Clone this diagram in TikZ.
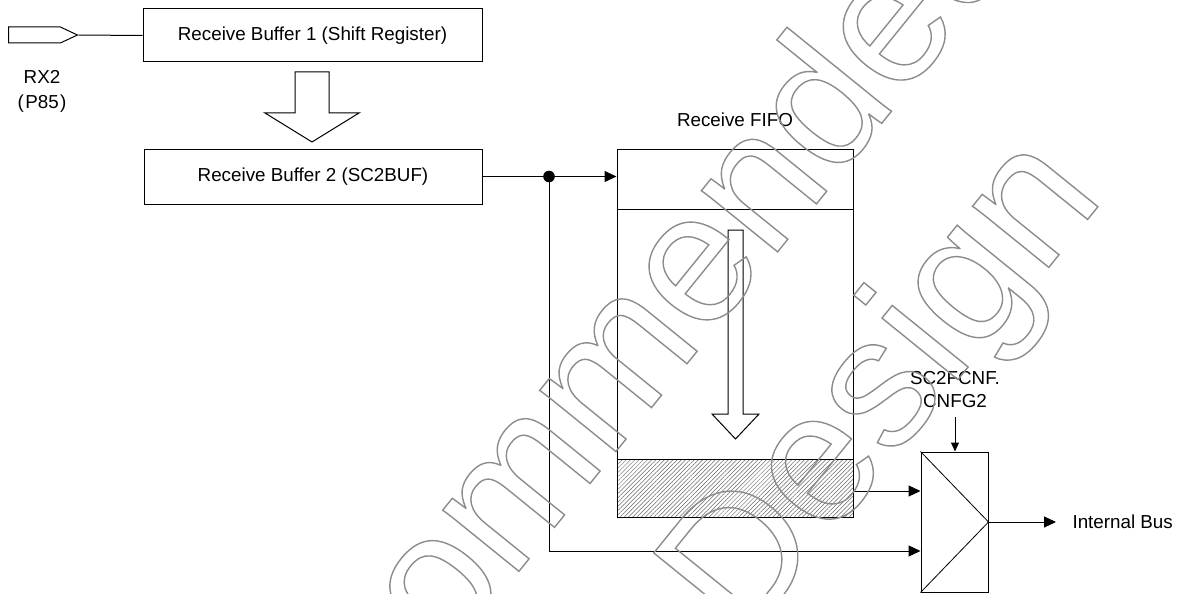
\documentclass[tikz,border=0pt]{standalone}
\usepackage{fontspec}
\setmainfont{Liberation Sans}
\usetikzlibrary{arrows.meta,patterns.meta,shapes.symbols}
\newcommand\wmoutline[1]{\special{pdf:literal direct 1 Tr 1.4 w}#1\special{pdf:literal direct 0 Tr}}
\begin{document}
\begin{tikzpicture}[x=1pt,y=-1pt,
  every node/.style={font=\fontsize{18.8}{23}\selectfont},
  box/.style={draw, line width=1pt, inner sep=0pt},
  conn/.style={line width=1pt},
  arr/.style={conn, -{Triangle[length=12pt,width=11pt]}},
  hollow/.style={draw, line width=1pt, fill=white},
  wm/.style={font=\fontsize{185}{220}\selectfont, text=black!45, inner sep=0pt, rotate=51, anchor=base west}]
\useasboundingbox (0,0) rectangle (1179,594);

% input pin and labels
\node[signal, draw, line width=1pt, signal to=east, signal pointer angle=50,
      minimum width=69pt, minimum height=16pt, inner sep=0pt, anchor=west] (pin) at (8,35) {};
\node[anchor=base] (rx) at (42,84) {RX2};
\node[anchor=base] (p85) at (42,109) {(\kern1.5ptP85\kern1.5pt)};

% buffers
\node[box, minimum width=339pt, minimum height=53pt] (buf1) at (312.5,35.5) {Receive Buffer 1 (Shift Register)};
\node[box, minimum width=338pt, minimum height=55pt] (buf2) at (313,176.5) {Receive Buffer 2 (SC2BUF)};
\draw[conn] (pin.east) -- (buf1.west);

% big hollow arrow
\draw[hollow] (295,72) -- (329,72) -- (329,113) -- (359,113) -- (312,142) -- (265,113) -- (295,113) -- cycle;

% FIFO
\node[anchor=base] (fifolabel) at (735,127) {Receive FIFO};
\node[box, minimum width=236pt, minimum height=60pt] (ftop) at (735,179) {};
\node[box, minimum width=236pt, minimum height=250pt] (fmid) at (735,334) {};
\node[box, minimum width=236pt, minimum height=58pt,
      pattern={Lines[angle=45,distance=3pt,line width=0.5pt]}, pattern color=black!60] (fbot) at (735,488) {};
\draw[hollow] (728,230) -- (743,230) -- (743,414) -- (759,414) -- (735.5,439) -- (712,414) -- (728,414) -- cycle;

% selector
\node[box, minimum width=67pt, minimum height=140pt] (mux) at (954.5,522) {};
\draw[line width=0.8pt] (mux.north west) -- (mux.east) -- (mux.south west);
\node[anchor=base] (cnf1) at (955,384) {SC2FCNF.};
\node[anchor=base] (cnf2) at (955,407) {CNFG2};
\coordinate (cin) at (955,417);
\draw[conn, -{Triangle[length=9pt,width=8pt]}] (cin) -- (cin |- mux.north);

% connections
\coordinate (dot) at (549,176.5);
\coordinate (in1) at ([yshift=31pt]mux.west);
\coordinate (in2) at ([yshift=-29pt]mux.west);
\draw[arr] (buf2.east) -- (buf2.east -| ftop.west);
\fill (dot) circle (5.8pt);
\draw[arr] (fbot.east |- in1) -- (in1);
\draw[arr] (dot) |- (in2);
\coordinate (busend) at (1056,522);
\draw[arr] (mux.east) -- (busend);
\node[anchor=west] (bus) at (1069,522) {Internal Bus};

% watermark
\node[wm] (wm1) at (239,917) {\wmoutline{Recommended}};
\node[wm] (wm2) at (743,645) {\wmoutline{Design}};
\end{tikzpicture}
\end{document}
